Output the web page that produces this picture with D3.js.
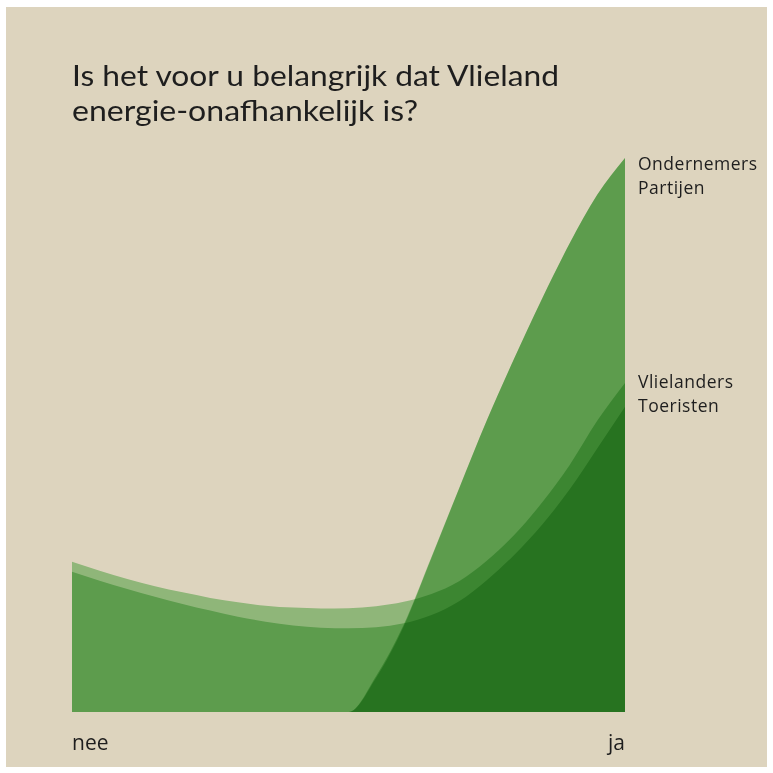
<!DOCTYPE html>
<html>
<head>
<meta charset="utf-8">
<script src="https://cdn.jsdelivr.net/npm/d3@7"></script>
<style>
  html, body { margin: 0; padding: 0; background: #ffffff; }
  svg { display: block; }
</style>
</head>
<body>
<div id="chart"></div>
<script>
// ---- data ----
const titleLines = ["Is het voor u belangrijk dat Vlieland", "energie-onafhankelijk is?"];
const axisLabels = ["nee", "ja"];
// 21 evenly spaced positions from "nee" (0) to "ja" (20)
const positions = d3.range(21);
const vlielanders = [27.1, 25.5, 24.0, 22.7, 21.6, 20.6, 19.8, 19.2, 18.85, 18.7, 18.75, 19.1, 19.9, 21.3, 23.6, 27.3, 32.0, 37.8, 44.6, 52.6, 59.4];
const toeristen   = [25.3, 23.7, 22.2, 20.8, 19.5, 18.3, 17.2, 16.3, 15.6, 15.2, 15.1, 15.3, 16.0, 17.5, 20.0, 23.8, 28.4, 33.8, 40.2, 47.6, 55.1];
const ondernemers = [0, 0, 0, 0, 0, 0, 0, 0, 0, 0, 0, 6.5, 15.8, 28.0, 40.4, 52.6, 63.9, 74.6, 84.6, 93.4, 100];
const partijen    = [0, 0, 0, 0, 0, 0, 0, 0, 0, 0, 0, 6.2, 15.5, 27.8, 40.3, 52.6, 63.9, 74.6, 84.6, 93.4, 100];
const seriesNames = ["Vlielanders", "Toeristen", "Ondernemers", "Partijen"];
const labelGroups = [["Ondernemers", "Partijen"], ["Vlielanders", "Toeristen"]];

// ---- layout ----
const W = 773, H = 773;
const svg = d3.select("#chart").append("svg").attr("width", W).attr("height", H);

svg.append("rect").attr("x", 6).attr("y", 7).attr("width", 761).attr("height", 760).attr("fill", "#ddd4be");

const x = d3.scaleLinear().domain([0, 20]).range([72, 625]);
const y = d3.scaleLinear().domain([0, 100]).range([712, 158]);

const seriesData = {
  "Vlielanders": vlielanders,
  "Toeristen": toeristen,
  "Ondernemers": ondernemers,
  "Partijen": partijen
};

const area = d3.area()
  .x((d, i) => x(positions[i]))
  .y0(y(0))
  .y1(d => y(d))
  .curve(d3.curveMonotoneX);

const g = svg.append("g");
seriesNames.forEach(name => {
  g.append("path")
    .datum(seriesData[name])
    .attr("d", area)
    .attr("fill", "#a5dba2")
    .style("mix-blend-mode", "multiply");
});

// title
const title = svg.append("g").attr("font-family", "Lato, sans-serif").attr("fill", "#1e1e1e");
title.append("text").attr("x", 72).attr("y", 86).attr("font-size", 29)
  .attr("textLength", 487).attr("lengthAdjust", "spacingAndGlyphs").text(titleLines[0]);
title.append("text").attr("x", 72).attr("y", 121).attr("font-size", 29)
  .attr("textLength", 346).attr("lengthAdjust", "spacingAndGlyphs").text(titleLines[1]);

// axis labels
svg.append("text").attr("x", x(0)).attr("y", 750).attr("font-size", 21)
  .attr("font-family", "'Open Sans', sans-serif").attr("fill", "#1e1e1e").text(axisLabels[0]);
svg.append("text").attr("x", x(20)).attr("y", 750).attr("font-size", 21).attr("text-anchor", "end")
  .attr("font-family", "'Open Sans', sans-serif").attr("fill", "#1e1e1e").text(axisLabels[1]);

// series labels
const labelOffsets = [12, 5];
labelGroups.forEach((group, gi) => {
  const top = y(d3.max(group, n => seriesData[n][20]));
  group.forEach((n, j) => {
    svg.append("text")
      .attr("x", 638)
      .attr("y", top + labelOffsets[gi] + j * 24)
      .attr("font-size", 17.5)
      .attr("letter-spacing", 0.5)
      .attr("font-family", "'Open Sans', sans-serif")
      .attr("fill", "#1e1e1e")
      .text(n);
  });
});
</script>
</body>
</html>
